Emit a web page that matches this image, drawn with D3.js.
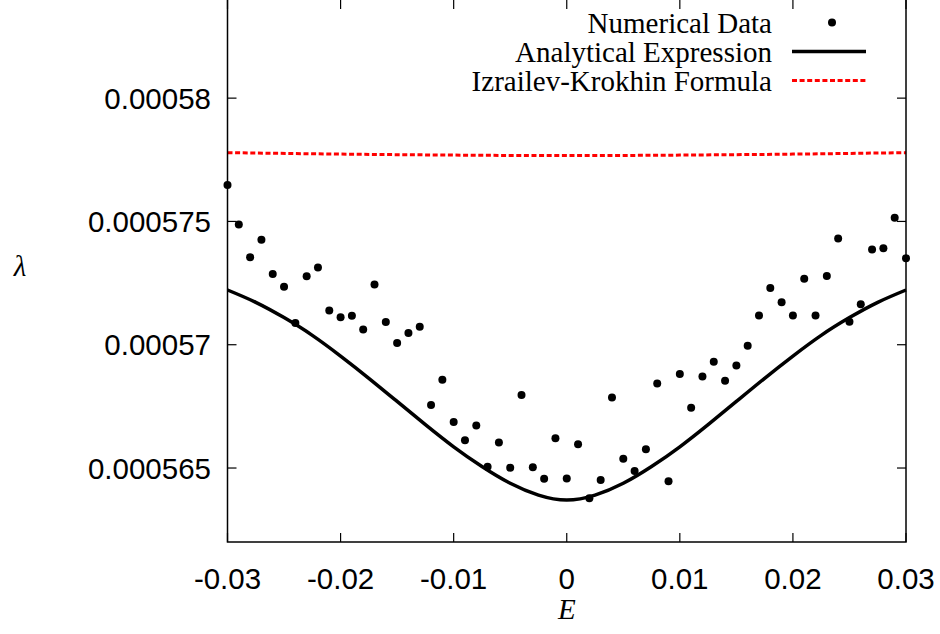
<!DOCTYPE html>
<meta charset="utf-8">
<script src="https://d3js.org/d3.v7.min.js"></script>
<style type="text/css">
    body { margin: 0; background: #fff; }
    .tick-label { font-family: "Liberation Sans", Arial, sans-serif; font-size: 29.5px; }
    .legend-text { font-family: "Liberation Serif", "Times New Roman", serif; font-size: 29px; }
    .axis-title { font-family: "Liberation Serif", "Times New Roman", serif; font-size: 29px; font-style: italic; }
</style>
<body>
<script>
    // energies for the numerical points, -0.03 .. 0.03 step 0.001
    var energies = [-0.030, -0.029, -0.028, -0.027, -0.026, -0.025, -0.024, -0.023, -0.022, -0.021,
        -0.020, -0.019, -0.018, -0.017, -0.016, -0.015, -0.014, -0.013, -0.012, -0.011,
        -0.010, -0.009, -0.008, -0.007, -0.006, -0.005, -0.004, -0.003, -0.002, -0.001,
        0.000, 0.001, 0.002, 0.003, 0.004, 0.005, 0.006, 0.007, 0.008, 0.009,
        0.010, 0.011, 0.012, 0.013, 0.014, 0.015, 0.016, 0.017, 0.018, 0.019,
        0.020, 0.021, 0.022, 0.023, 0.024, 0.025, 0.026, 0.027, 0.028, 0.029, 0.030];

    // numerical lambda values (x 1e-6)
    var numerical = [576.48, 574.88, 573.55, 574.26, 572.87, 572.35, 570.88, 572.78, 573.13, 571.39,
        571.11, 571.18, 570.62, 572.44, 570.92, 570.07, 570.48, 570.73, 567.56, 568.58,
        566.87, 566.13, 566.72, 565.05, 566.04, 565.01, 567.96, 565.03, 564.57, 566.21,
        564.58, 565.96, 563.77, 564.51, 567.86, 565.38, 564.88, 565.76, 568.43, 564.46,
        568.81, 567.44, 568.71, 569.31, 568.54, 569.16, 569.96, 571.19, 572.30, 571.72,
        571.19, 572.68, 571.19, 572.79, 574.31, 570.93, 571.64, 573.86, 573.91, 575.15, 573.51];

    // analytical expression, sampled (x 1e-6)
    var curveE = [-0.030, -0.0275, -0.025, -0.0225, -0.020, -0.0175, -0.015, -0.0125, -0.010, -0.0075, -0.005, -0.0025,
        0.000, 0.0025, 0.005, 0.0075, 0.010, 0.0125, 0.015, 0.0175, 0.020, 0.0225, 0.025, 0.0275, 0.030];
    var analytical = [572.22, 571.72, 571.10, 570.38, 569.54, 568.64, 567.70, 566.76, 565.86, 565.06, 564.38, 563.90,
        563.70, 563.90, 564.38, 565.06, 565.86, 566.76, 567.70, 568.64, 569.54, 570.38, 571.10, 571.72, 572.22];

    // Izrailev-Krokhin formula (x 1e-6)
    var ikE = [-0.030, -0.020, -0.010, 0.000, 0.010, 0.020, 0.030];
    var izrailev = [577.79, 577.73, 577.69, 577.67, 577.69, 577.73, 577.79];

    var xTicks = [-0.03, -0.02, -0.01, 0, 0.01, 0.02, 0.03];
    var xTickLabels = ["-0.03", "-0.02", "-0.01", "0", "0.01", "0.02", "0.03"];
    var yTicks = [565, 570, 575, 580];
    var yTickLabels = ["0.000565", "0.00057", "0.000575", "0.00058"];

    var legendNames = ["Numerical Data", "Analytical Expression", "Izrailev-Krokhin Formula"];

    var width = 940, height = 634;
    var plot = {left: 227.5, right: 906, top: -0.5, bottom: 542};

    var x = d3.scaleLinear().domain([-0.03, 0.03]).range([plot.left, plot.right]);
    var y = d3.scaleLinear().domain([562, 584]).range([plot.bottom, plot.top]);

    var svg = d3.select("body")
        .append("svg")
        .attr("width", width)
        .attr("height", height);

    // curves
    var line = d3.line()
        .x(function(d){ return x(d[0]); })
        .y(function(d){ return y(d[1]); })
        .curve(d3.curveNatural);

    svg.append("path")
        .datum(ikE.map(function(e, i){ return [e, izrailev[i]]; }))
        .attr("d", line)
        .attr("fill", "none")
        .attr("stroke", "#ff0000")
        .attr("stroke-width", 3)
        .attr("stroke-dasharray", "5,2.6");

    svg.append("path")
        .datum(curveE.map(function(e, i){ return [e, analytical[i]]; }))
        .attr("d", line)
        .attr("fill", "none")
        .attr("stroke", "#000")
        .attr("stroke-width", 3.5);

    svg.selectAll("circle.pt")
        .data(energies)
        .enter()
        .append("circle")
        .attr("class", "pt")
        .attr("cx", function(d){ return x(d); })
        .attr("cy", function(d, i){ return y(numerical[i]); })
        .attr("r", 4)
        .attr("fill", "#000");

    // border (top edge falls just outside the picture) + inward ticks on all sides
    svg.append("rect")
        .attr("x", plot.left).attr("y", -2)
        .attr("width", plot.right - plot.left).attr("height", plot.bottom + 2)
        .attr("fill", "none")
        .attr("stroke", "#000")
        .attr("stroke-width", 1.5);

    var tl = 9;
    xTicks.forEach(function(t, i){
        svg.append("line").attr("x1", x(t)).attr("x2", x(t)).attr("y1", plot.bottom).attr("y2", plot.bottom - tl)
            .attr("stroke", "#000").attr("stroke-width", 1.2);
        svg.append("line").attr("x1", x(t)).attr("x2", x(t)).attr("y1", 0).attr("y2", tl)
            .attr("stroke", "#000").attr("stroke-width", 1.2);
        svg.append("text")
            .attr("class", "tick-label")
            .attr("x", x(t))
            .attr("y", 589)
            .attr("text-anchor", "middle")
            .text(xTickLabels[i]);
    });

    yTicks.forEach(function(t, i){
        svg.append("line").attr("x1", plot.left).attr("x2", plot.left + tl).attr("y1", y(t)).attr("y2", y(t))
            .attr("stroke", "#000").attr("stroke-width", 1.2);
        svg.append("line").attr("x1", plot.right).attr("x2", plot.right - tl).attr("y1", y(t)).attr("y2", y(t))
            .attr("stroke", "#000").attr("stroke-width", 1.2);
        svg.append("text")
            .attr("class", "tick-label")
            .attr("x", 211)
            .attr("y", y(t) + 10.5)
            .attr("text-anchor", "end")
            .text(yTickLabels[i]);
    });

    // axis titles
    svg.append("text")
        .attr("class", "axis-title")
        .attr("x", x(0))
        .attr("y", 619)
        .attr("text-anchor", "middle")
        .text("E");

    svg.append("text")
        .attr("class", "axis-title")
        .attr("x", 20)
        .attr("y", 276)
        .attr("text-anchor", "middle")
        .text("λ");

    // legend
    var legendY = [32.5, 61.5, 90.5];
    legendNames.forEach(function(name, i){
        svg.append("text")
            .attr("class", "legend-text")
            .attr("x", 772)
            .attr("y", legendY[i])
            .attr("text-anchor", "end")
            .text(name);
    });
    svg.append("circle").attr("cx", 832).attr("cy", legendY[0] - 10).attr("r", 4).attr("fill", "#000");
    svg.append("line").attr("x1", 792).attr("x2", 866).attr("y1", legendY[1] - 10).attr("y2", legendY[1] - 10)
        .attr("stroke", "#000").attr("stroke-width", 3.5);
    svg.append("line").attr("x1", 792).attr("x2", 866).attr("y1", legendY[2] - 10).attr("y2", legendY[2] - 10)
        .attr("stroke", "#ff0000").attr("stroke-width", 3).attr("stroke-dasharray", "5,2.6");
</script>
</body>
